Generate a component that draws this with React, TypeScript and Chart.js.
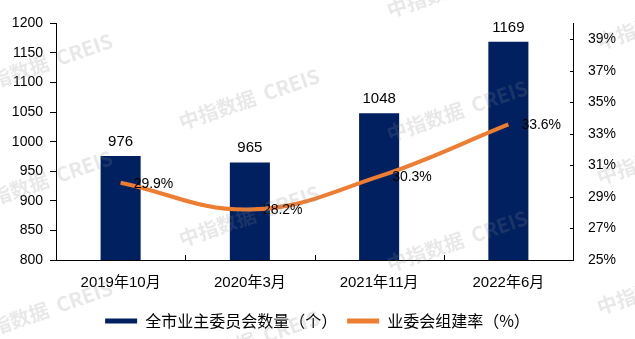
import React, { useEffect, useRef } from "react";
import { Chart, registerables } from "chart.js";

Chart.register(...registerables);

// ---- data ----
const categories = ["2019年10月", "2020年3月", "2021年11月", "2022年6月"];
const committeeCounts = [976, 965, 1048, 1169];
const formationRates = [29.9, 28.2, 30.3, 33.6];
const countTicks = [800, 850, 900, 950, 1000, 1050, 1100, 1150, 1200];
const rateTicks = [25, 27, 29, 31, 33, 35, 37, 39];
const seriesNames = ["全市业主委员会数量（个）", "业委会组建率（%）"];
const watermarkText = "中指数据  CREIS";

// decorative watermark anchor points (not data)
const watermarkSpots: [number, number][] = [
  [-25, 95], [-25, 212], [-25, 342],
  [182, 130], [182, 247], [182, 372],
  [390, 18], [390, 142], [390, 272],
  [600, 50], [600, 185], [600, 315],
];

const NAVY = "#002060";
const ORANGE = "#ED7D31";
const LATIN = "'Liberation Sans', Arial, 'Noto Sans CJK SC', sans-serif";
const CJK = "'Noto Sans CJK SC', 'Liberation Sans', sans-serif";

const labelPlugin = {
  id: "valueLabels",
  afterDatasetsDraw(chart: any) {
    const ctx = chart.ctx;
    ctx.save();
    ctx.fillStyle = "#000";
    const barMeta = chart.getDatasetMeta(0);
    ctx.font = `15px ${LATIN}`;
    ctx.textAlign = "center";
    ctx.textBaseline = "alphabetic";
    barMeta.data.forEach((el: any, i: number) => {
      ctx.fillText(String(committeeCounts[i]), el.x, el.y - 10);
    });
    const lineMeta = chart.getDatasetMeta(1);
    ctx.font = `14px ${LATIN}`;
    ctx.textAlign = "left";
    ctx.textBaseline = "middle";
    lineMeta.data.forEach((el: any, i: number) => {
      ctx.fillText(formationRates[i].toFixed(1) + "%", el.x + 13, el.y + 1);
    });
    ctx.restore();
  },
};

const innerTicksPlugin = {
  id: "innerTicks",
  afterDraw(chart: any) {
    const ctx = chart.ctx;
    const x = chart.scales.x;
    const y1 = chart.scales.y1;
    ctx.save();
    ctx.strokeStyle = "#000";
    ctx.lineWidth = 1;
    ctx.beginPath();
    rateTicks.forEach((v) => {
      const py = Math.round(y1.getPixelForValue(v)) + 0.5;
      ctx.moveTo(y1.left - 3, py);
      ctx.lineTo(y1.left, py);
    });
    for (let i = 0; i < categories.length - 1; i++) {
      const px = Math.round((x.getPixelForValue(i) + x.getPixelForValue(i + 1)) / 2) + 0.5;
      ctx.moveTo(px, x.top - 5);
      ctx.lineTo(px, x.top);
    }
    ctx.stroke();
    ctx.restore();
  },
};

const watermarkPlugin = {
  id: "watermark",
  afterDraw(chart: any) {
    const ctx = chart.ctx;
    ctx.save();
    ctx.font = `bold 20px ${CJK}`;
    ctx.fillStyle = "rgba(140,140,140,0.2)";
    ctx.textAlign = "left";
    ctx.textBaseline = "alphabetic";
    watermarkSpots.forEach(([wx, wy]) => {
      ctx.save();
      ctx.translate(wx, wy);
      ctx.rotate((-19 * Math.PI) / 180);
      ctx.fillText(watermarkText, 0, 0);
      ctx.restore();
    });
    ctx.restore();
  },
};

export default function App() {
  const ref = useRef<HTMLCanvasElement | null>(null);

  useEffect(() => {
    document.body.style.margin = "0";
    if (!ref.current) return;
    const chart = new Chart(ref.current, {
      type: "bar",
      data: {
        labels: categories,
        datasets: [
          {
            type: "bar",
            label: seriesNames[0],
            data: committeeCounts,
            backgroundColor: NAVY,
            borderWidth: 0,
            yAxisID: "y",
            categoryPercentage: 1,
            barPercentage: 0.31,
            order: 2,
          } as any,
          {
            type: "line",
            label: seriesNames[1],
            data: formationRates,
            borderColor: ORANGE,
            backgroundColor: ORANGE,
            borderWidth: 4,
            pointRadius: 0,
            tension: 0.4,
            fill: false,
            yAxisID: "y1",
            order: 1,
          } as any,
        ],
      },
      options: {
        animation: false,
        responsive: true,
        maintainAspectRatio: false,
        layout: { padding: { top: 17, left: 0, right: 0, bottom: 0 } },
        plugins: {
          tooltip: { enabled: false },
          legend: {
            display: true,
            position: "bottom",
            labels: {
              boxWidth: 32,
              boxHeight: 5,
              padding: 10,
              color: "#000",
              font: { size: 16, family: CJK },
              generateLabels: (c: any) =>
                c.data.datasets.map((ds: any, i: number) => ({
                  text: ds.label,
                  fillStyle: i === 0 ? NAVY : ORANGE,
                  strokeStyle: i === 0 ? NAVY : ORANGE,
                  lineWidth: 0,
                  hidden: false,
                  datasetIndex: i,
                })),
            },
          },
        },
        scales: {
          x: {
            offset: true,
            grid: { display: false, drawTicks: false },
            border: { display: true, color: "#000", width: 1 },
            ticks: {
              color: "#000",
              font: { size: 15, family: LATIN },
              padding: 14,
              maxRotation: 0,
              autoSkip: false,
            },
            afterFit: (s: any) => {
              s.height = 43;
            },
          },
          y: {
            position: "left",
            min: 800,
            max: 1200,
            grid: {
              display: true,
              drawOnChartArea: false,
              drawTicks: true,
              tickLength: 6,
              color: "#000",
            },
            border: { display: true, color: "#000", width: 1 },
            ticks: {
              color: "#000",
              font: { size: 14, family: LATIN },
              padding: 7,
              callback: (v: any) => String(v),
            },
            afterBuildTicks: (s: any) => {
              s.ticks = countTicks.map((v) => ({ value: v }));
            },
            afterFit: (s: any) => {
              s.width = 56;
            },
          },
          y1: {
            position: "right",
            min: 25,
            max: 40,
            grid: { display: false, drawTicks: false },
            border: { display: true, color: "#000", width: 1 },
            ticks: {
              color: "#000",
              font: { size: 14, family: LATIN },
              padding: 15,
              callback: (v: any) => `${v}%`,
            },
            afterBuildTicks: (s: any) => {
              s.ticks = rateTicks.map((v) => ({ value: v }));
            },
            afterFit: (s: any) => {
              s.width = 62;
            },
          },
        },
      },
      plugins: [labelPlugin, innerTicksPlugin, watermarkPlugin],
    });
    return () => chart.destroy();
  }, []);

  return (
    <div style={{ position: "fixed", left: 0, top: 0, width: 635, height: 339, background: "#fff" }}>
      <canvas ref={ref} />
    </div>
  );
}
